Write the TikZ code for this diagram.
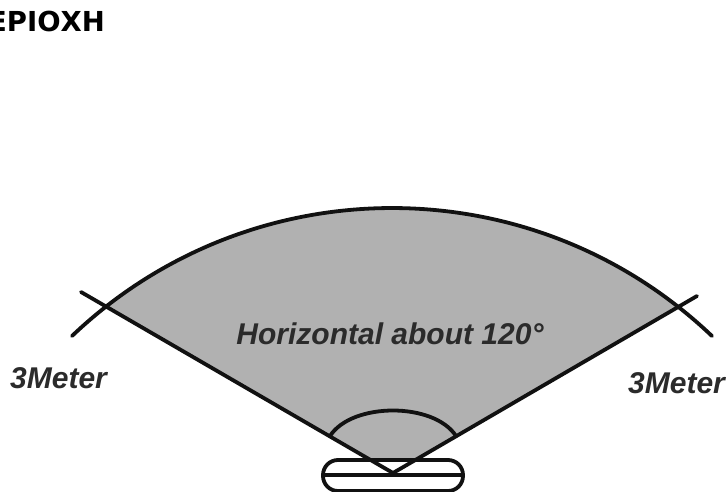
\documentclass[tikz,border=0pt]{standalone}
\usepackage{fontspec}
\setmainfont{Liberation Sans}
\newfontfamily\titlefont{DejaVu Sans}
\usepackage{xcolor}
\definecolor{SensorInk}{HTML}{111111}
\definecolor{SensorLabel}{HTML}{2B2B2B}
\definecolor{SensorFill}{HTML}{B1B1B1}
\tikzset{
  x=1pt,y=-1pt,
  edge/.style={draw=SensorInk,line width=3.8pt,line cap=round},
  zone/.style={fill=SensorFill,draw=none},
  rangelabel/.style={text=SensorLabel,font=\bfseries\itshape\fontsize{30}{30}\selectfont,inner sep=0pt},
  heading/.style={text=black,font=\titlefont\bfseries\fontsize{27.5}{27.5}\selectfont,inner sep=0pt,anchor=base west}
}
\begin{document}
\begin{tikzpicture}
  \useasboundingbox (0,0) rectangle (728,492);
  \clip (0,0) rectangle (728,492);
  \fill[white] (0,0) rectangle (728,492);
  \coordinate (apex) at (393,473);
  \coordinate (leftEdge) at (106,306);
  \coordinate (rightEdge) at (679,306);
  \coordinate (leftTip) at (81,292);
  \coordinate (rightTip) at (697,296);
  \coordinate (leftInner) at (330,436);
  \coordinate (rightInner) at (456,436);
  % shaded sector
  \fill[zone] (apex) -- (leftEdge) arc[start angle=128.1,end angle=51.9,radius=464pt] -- cycle;
  % sensor body
  \draw[edge,fill=white,rounded corners=15pt] (323,460) rectangle (463,491);
  \draw[edge] (323,475) -- (463,475);
  % outer arc and edges
  \draw[edge] (72,336) arc[start angle=133.6,end angle=46.4,radius=464pt];
  \draw[edge] (leftTip) -- (apex) -- (rightTip);
  \draw[edge] (leftInner) .. controls (352,402) and (434,402) .. (rightInner);
  \node[rangelabel,anchor=base] (angleText) at (390,344) {Horizontal about 120°};
  \node[rangelabel,anchor=base west] (leftRange) at (10,388) {3Meter};
  \node[rangelabel,anchor=base west] (rightRange) at (628,393) {3Meter};
  \node[heading] (titleText) at (-12,32) {ΕΡΙΟΧΗ};
\end{tikzpicture}
\end{document}
